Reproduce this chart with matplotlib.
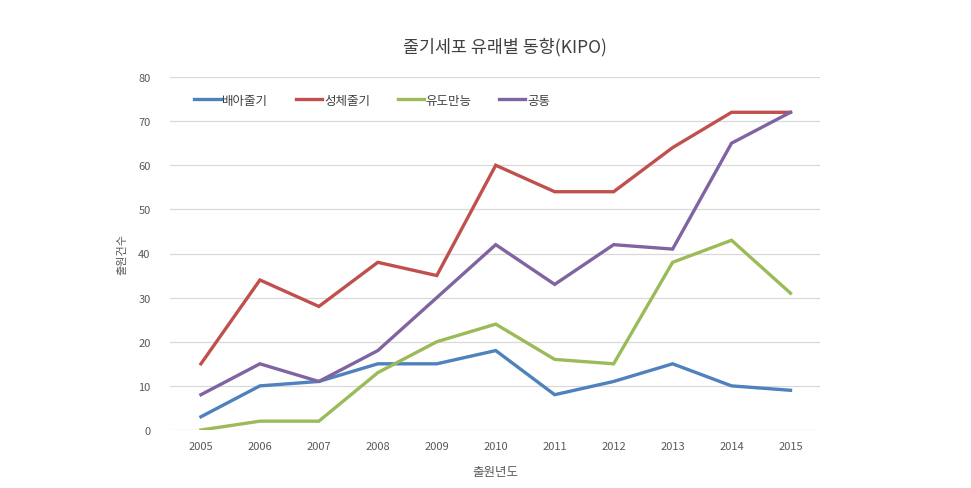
import matplotlib
matplotlib.use("Agg")
import matplotlib.pyplot as plt

plt.rcParams['font.family'] = ['Noto Sans CJK KR', 'DejaVu Sans']

years = ['2005', '2006', '2007', '2008', '2009', '2010', '2011', '2012', '2013', '2014', '2015']
embryonic = [3, 10, 11, 15, 15, 18, 8, 11, 15, 10, 9]
adult = [15, 34, 28, 38, 35, 60, 54, 54, 64, 72, 72]
ips = [0, 2, 2, 13, 20, 24, 16, 15, 38, 43, 31]
common = [8, 15, 11, 18, 30, 42, 33, 42, 41, 65, 72]

series = [
    ('배아줄기', embryonic, '#4F81BD'),
    ('성체줄기', adult, '#C0504D'),
    ('유도만능', ips, '#9BBB59'),
    ('공통', common, '#8064A2'),
]

fig = plt.figure(figsize=(9.71, 4.89), dpi=100)
ax = fig.add_axes([170/971, 1 - 431/489, 650/971, (431 - 78)/489])

x = list(range(len(years)))
for name, vals, col in series:
    ax.plot(x, vals, color=col, lw=2.4, label=name, solid_joinstyle='miter')

ax.set_xlim(-0.525, 10.5)
ax.set_ylim(0, 80)
ax.set_yticks(range(0, 81, 10))
ax.set_xticks(x)
ax.set_xticklabels(years)
ax.grid(axis='y', color='#D9D9D9', lw=0.9)
ax.set_axisbelow(True)
for s in ax.spines.values():
    s.set_visible(False)
ax.tick_params(length=0, labelsize=8, colors='#595959', pad=8)
ax.tick_params(axis='y', pad=14)

ax.set_xlabel('출원년도', fontsize=9, color='#595959', labelpad=10)
ax.set_ylabel('출원건수', fontsize=8, color='#595959', labelpad=8)
fig.text(0.52, 1 - 47/489, '줄기세포 유래별 동향(KIPO)', ha='center', va='center',
         fontsize=12.5, color='#404040')

ax.legend(loc='upper left', bbox_to_anchor=(0.02, 0.985), ncol=4, frameon=False,
          fontsize=9, handlelength=2.1, handletextpad=0.15, columnspacing=2.2,
          labelcolor='#404040')

fig.savefig('out.png', dpi=100)
